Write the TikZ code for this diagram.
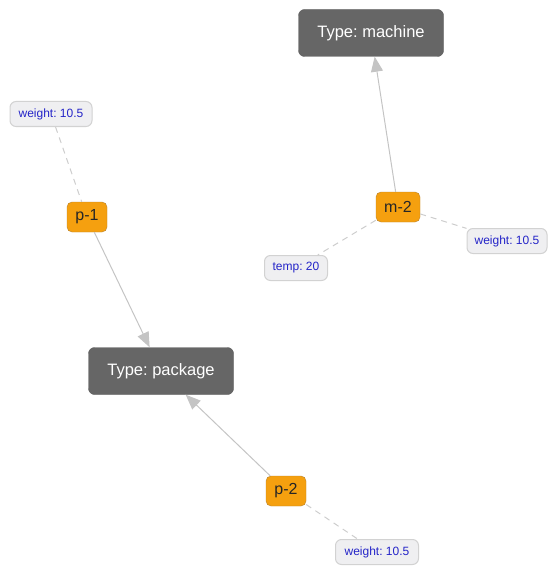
\documentclass[tikz,border=0pt]{standalone}
\usepackage{fontspec}
\setmainfont{Liberation Sans}
\frenchspacing
\usetikzlibrary{arrows.meta}
\definecolor{typefill}{HTML}{666666}
\definecolor{typeborder}{HTML}{5A5A5A}
\definecolor{ofill}{HTML}{F5A00F}
\definecolor{oborder}{HTML}{B7822E}
\definecolor{lfill}{HTML}{EFEFF1}
\definecolor{lborder}{HTML}{D2D2D2}
\definecolor{ltext}{HTML}{2424C8}
\definecolor{edgec}{HTML}{C4C4C4}
\tikzset{
  typebox/.style={draw=typeborder, fill=typefill, rounded corners=6pt, text=white,
    minimum width=145pt, minimum height=47pt, inner sep=0pt,
    font=\fontsize{16.5}{18}\selectfont},
  entbox/.style={draw=oborder, fill=ofill, rounded corners=5pt, text=black!85,
    minimum width=40pt, minimum height=30pt, inner sep=0pt,
    font=\fontsize{16}{18}\selectfont},
  propbox/.style={draw=lborder, fill=lfill, rounded corners=6pt, text=ltext,
    minimum height=25pt, inner sep=0pt, line width=1pt,
    font=\fontsize{12}{14}\selectfont},
  rel/.style={draw=edgec, line width=1pt, -{Triangle[length=15pt,width=12pt]}},
  prop/.style={draw=edgec!85, line width=1pt, dash pattern=on 6pt off 5pt}
}
\begin{document}
\begin{tikzpicture}[x=1pt,y=-1pt]
\useasboundingbox (0,0) rectangle (547,567);
\node[typebox] (machine) at (371,33) {Type: machine};
\node[typebox] (package) at (161,371) {Type: package};
\node[propbox, minimum width=82pt] (w1) at (51,114) {weight: 10.5};
\node[entbox] (p1) at (87,217) {p-1};
\node[entbox, minimum width=44pt] (m2) at (398,207) {m-2};
\node[propbox, minimum width=80pt] (w2) at (507,241) {weight: 10.5};
\node[propbox, minimum width=63pt] (temp) at (296,268) {temp: 20};
\node[entbox] (p2) at (286,491) {p-2};
\node[propbox, minimum width=83pt] (w3) at (377,552) {weight: 10.5};
\draw[prop] (w1) -- (p1);
\draw[prop] (m2) -- (w2);
\draw[prop] (m2) -- (temp);
\draw[prop] (p2) -- (w3);
\draw[rel] (p1) -- (package);
\draw[rel] (m2) -- (machine);
\draw[rel] (p2) -- (package);
\end{tikzpicture}
\end{document}
